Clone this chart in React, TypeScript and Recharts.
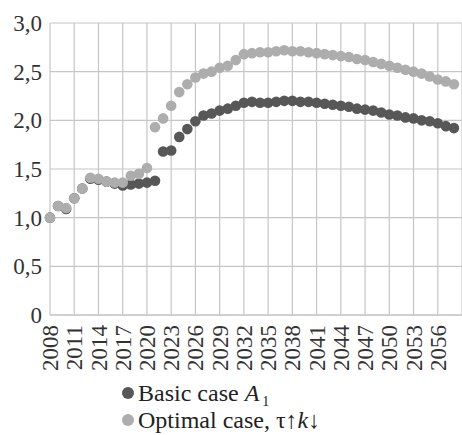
import React from 'react';
import { ScatterChart, Scatter, XAxis, YAxis, CartesianGrid, Legend } from 'recharts';

const years = Array.from({ length: 51 }, (_, i) => 2008 + i);

const basicCase = [
  1.0, 1.12, 1.09, 1.2, 1.3, 1.4, 1.39, 1.37, 1.35, 1.33,
  1.34, 1.35, 1.36, 1.38, 1.68, 1.69, 1.83, 1.91, 1.99, 2.05,
  2.07, 2.1, 2.12, 2.15, 2.18, 2.19, 2.18, 2.18, 2.19, 2.2,
  2.2, 2.19, 2.19, 2.18, 2.17, 2.16, 2.15, 2.14, 2.12, 2.11,
  2.1, 2.08, 2.06, 2.05, 2.03, 2.02, 2.0, 1.99, 1.97, 1.94,
  1.92,
];

const optimalCase = [
  1.0, 1.12, 1.1, 1.2, 1.3, 1.41, 1.4, 1.37, 1.36, 1.36,
  1.43, 1.45, 1.51, 1.93, 2.02, 2.15, 2.29, 2.37, 2.44, 2.48,
  2.5, 2.54, 2.56, 2.62, 2.68, 2.69, 2.7, 2.7, 2.71, 2.72,
  2.71, 2.71, 2.7, 2.69, 2.68, 2.67, 2.66, 2.65, 2.63, 2.62,
  2.6, 2.58, 2.56, 2.54, 2.52, 2.5, 2.48, 2.45, 2.42, 2.4,
  2.37,
];

const xTicks = [2008, 2011, 2014, 2017, 2020, 2023, 2026, 2029, 2032, 2035, 2038, 2041, 2044, 2047, 2050, 2053, 2056];
const yTicks = [0, 0.5, 1, 1.5, 2, 2.5, 3];

const basicData = years.map((year, i) => ({ year, value: basicCase[i] }));
const optimalData = years.map((year, i) => ({ year, value: optimalCase[i] }));

const DARK = '#575757';
const LIGHT = '#adadad';
const FONT = '"Liberation Serif", "Times New Roman", serif';

const fmt = (v: number) => (v === 0 ? '0' : v.toFixed(1).replace('.', ','));

const YearTick = (props: any) => {
  const { x, y, payload } = props;
  return (
    <text
      x={x}
      y={y + 2}
      transform={`rotate(-90, ${x}, ${y + 2})`}
      textAnchor="end"
      dy="0.35em"
      fontSize={23}
      fontFamily={FONT}
      fill="#333"
    >
      {payload.value}
    </text>
  );
};

const dot = (color: string) => (props: any) =>
  <circle cx={props.cx} cy={props.cy} r={5.3} fill={color} />;

const marker = (color: string) => (
  <span style={{ display: 'inline-block', width: 12, height: 12, borderRadius: 6, background: color, marginRight: 4, verticalAlign: 'middle', position: 'relative', top: -2 }} />
);

const renderLegend = () => (
  <div style={{ marginLeft: 122, paddingTop: 3, fontFamily: FONT, fontSize: 24, color: '#222', lineHeight: '27px' }}>
    <div style={{ height: 27, whiteSpace: 'nowrap' }}>
      {marker(DARK)}
      Basic case <i style={{ marginRight: 3 }}>A</i><span style={{ fontSize: 14, position: 'relative', top: 5 }}>1</span>
    </div>
    <div style={{ height: 27, whiteSpace: 'nowrap' }}>
      {marker(LIGHT)}
      Optimal case, τ↑<i>k</i>↓
    </div>
  </div>
);

export default function App() {
  return (
    <div style={{ position: 'absolute', left: 0, top: 0, background: '#fff' }}>
      <ScatterChart width={462} height={435} margin={{ top: 23, right: 0, left: 0, bottom: 0 }}>
        <CartesianGrid stroke="#c6c6c6" strokeWidth={1.2} />
        <XAxis
          type="number"
          dataKey="year"
          domain={[2008, 2059]}
          ticks={xTicks}
          interval={0}
          tick={<YearTick />}
          tickLine={false}
          axisLine={{ stroke: '#bdbdbd', strokeWidth: 1.2 }}
          height={62}
        />
        <YAxis
          type="number"
          dataKey="value"
          domain={[0, 3]}
          ticks={yTicks}
          tickFormatter={fmt}
          tickLine={false}
          axisLine={false}
          width={50}
          tick={{ fontSize: 23, fontFamily: FONT, fill: '#333' }}
        />
        <Legend verticalAlign="bottom" align="left" height={58} content={renderLegend} />
        <Scatter name="Basic case" data={basicData} fill={DARK} shape={dot(DARK)} isAnimationActive={false} />
        <Scatter name="Optimal case" data={optimalData} fill={LIGHT} shape={dot(LIGHT)} isAnimationActive={false} />
      </ScatterChart>
    </div>
  );
}
